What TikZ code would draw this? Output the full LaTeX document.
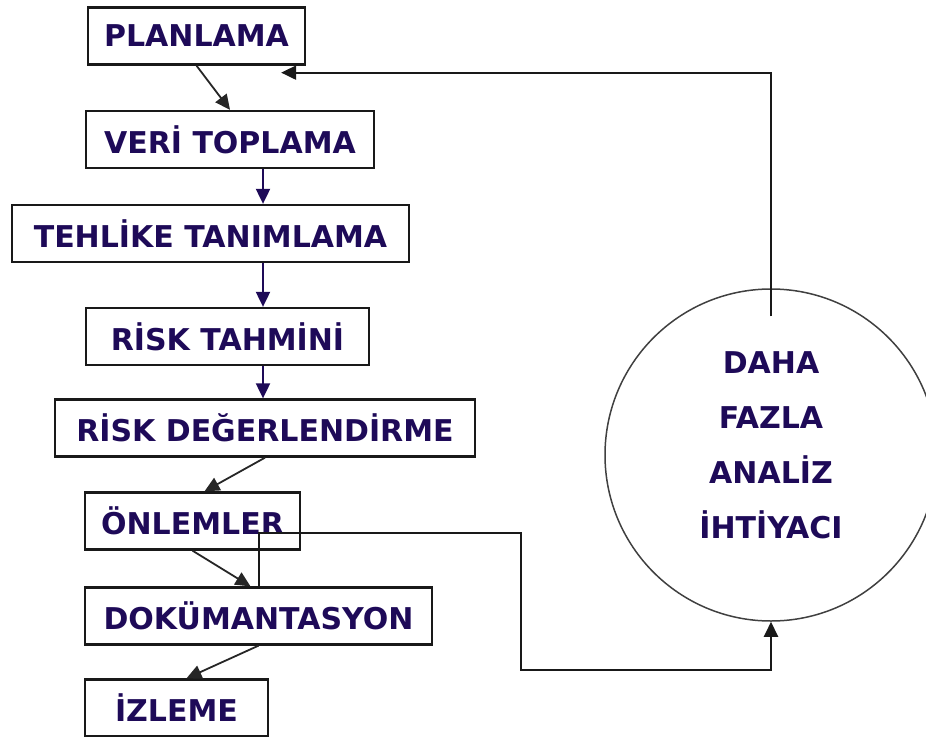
\documentclass[tikz,border=0pt]{standalone}
\usepackage{fontspec}
\setmainfont{DejaVu Sans}
\usepackage{tikz}
\usetikzlibrary{arrows.meta, positioning, calc}
\definecolor{ink}{RGB}{30,10,88}

\begin{document}
\begin{tikzpicture}[x=1pt, y=-1pt, >={Triangle[length=15pt,width=14pt]},
    box/.style={draw=black!90, line width=2.3pt, minimum height=57pt, inner sep=0pt, text=ink, font=\bfseries\fontsize{30}{36}\selectfont},
    ring/.style={draw=black!75, line width=1.5pt, circle, minimum size=332pt, inner sep=0pt},
    ringtext/.style={text=ink, align=center, yshift=10pt, font=\bfseries\fontsize{30}{55}\selectfont},
    flow/.style={->, line width=2pt, draw=ink},
    slant/.style={->, line width=1.8pt, draw=black!85},
    back/.style={->, line width=2pt, draw=black!90}]
  \useasboundingbox (0,0) rectangle (926,736);

  \node[box, minimum width=217pt] (plan) at (196.5,36) {PLANLAMA};
  \node[box, minimum width=288pt] (veri) at (230,139.5) {VERİ TOPLAMA};
  \node[box, minimum width=397pt] (tehlike) at (210.5,233.5) {TEHLİKE TANIMLAMA};
  \node[box, minimum width=283pt] (tahmin) at (227.5,336.5) {RİSK TAHMİNİ};
  \node[box, minimum width=420pt] (deger) at (265,428) {RİSK DEĞERLENDİRME};
  \node[box, minimum width=215pt] (onlem) at (192.5,521) {ÖNLEMLER};
  \node[box, minimum width=347pt] (dok) at (258.5,616) {DOKÜMANTASYON};
  \node[box, minimum width=183pt] (izleme) at (176.5,708) {İZLEME};

  \node[ring, label={[ringtext]center:{DAHA\\FAZLA\\ANALİZ\\İHTİYACI}}] (circ) at (771,455) {};

  \coordinate (col) at (263,0);
  \draw[flow] (veri.south -| col) -- (tehlike.north -| col);
  \draw[flow] (tehlike.south -| col) -- (tahmin.north -| col);
  \draw[flow] (tahmin.south -| col) -- (deger.north -| col);

  \draw[slant] (plan.south) -- (veri.north);
  \draw[slant] (deger.south) -- ([xshift=12pt]onlem.north);
  \draw[slant] (onlem.south) -- ([xshift=-8pt]dok.north);
  \draw[slant] (dok.south) -- ([xshift=10pt]izleme.north);

  \draw[back] ([yshift=-28pt]circ.north) |- ([shift={(-25pt,-7pt)}]plan.south east);
  \coordinate (jog) at (521,533);
  \coordinate (low) at (521,670);
  \draw[back] (dok.north) |- (jog) -- (low) -| (circ.south);
\end{tikzpicture}
\end{document}
